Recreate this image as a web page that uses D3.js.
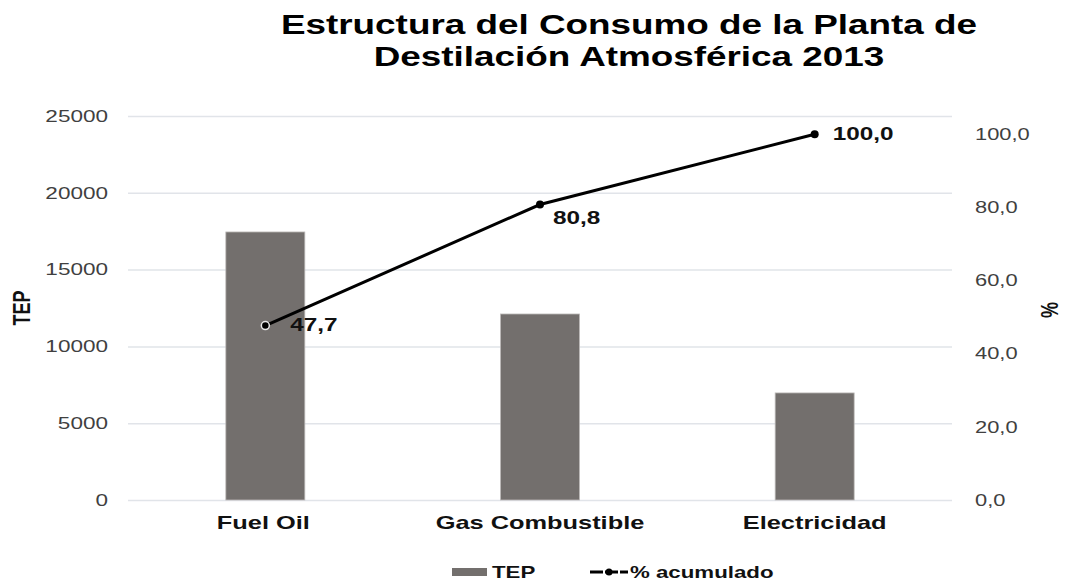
<!DOCTYPE html>
<html>
<head>
<meta charset="utf-8">
<script src="https://cdn.jsdelivr.net/npm/d3@7"></script>
<style>
  body { margin: 0; background: #fff; }
  svg { display: block; font-family: 'Liberation Sans', Arial, sans-serif; }
</style>
</head>
<body>
<svg id="chart" width="1072" height="581"></svg>
<script>
// data
const categories = ['Fuel Oil', 'Gas Combustible', 'Electricidad'];
const tep = [17450, 12110, 6970];
const acumulado = [47.7, 80.8, 100.0];
const leftTicks = [0, 5000, 10000, 15000, 20000, 25000];
const rightTicks = [0, 20, 40, 60, 80, 100];
const titleLines = ['Estructura del Consumo de la Planta de', 'Destilación Atmosférica 2013'];

// label nudges (style, not data)
const labelOffsets = [[25, 0], [13, 14], [18, 0]];

const SX = 1.35; // the reference is stretched horizontally
const barColor = '#736f6d';
const gridColor = '#e1e4e9';
const tickColor = '#404040';

const svg = d3.select('#chart');
const margin = { left: 128, right: 120, top: 116, bottom: 81 };
const W = 1072, H = 581;
const plotL = margin.left, plotR = W - margin.right, plotT = margin.top, plotB = H - margin.bottom;

const x = d3.scaleBand().domain(categories).range([plotL, plotR]).padding(0);
const yL = d3.scaleLinear().domain([0, 25000]).range([plotB, plotT]);
const yR = d3.scaleLinear().domain([0, 105]).range([plotB, plotT]);
const barW = 79;

function stretch(sel) {
  sel.each(function () {
    const t = d3.select(this);
    const xv = +t.attr('x') || 0;
    t.attr('x', xv / SX).attr('transform', 'scale(' + SX + ',1)');
  });
}

function label(g, px, py, txt, opts) {
  opts = opts || {};
  return g.append('text')
    .attr('transform', 'translate(' + px + ',' + py + ') scale(' + SX + ',1)' + (opts.rotate ? ' rotate(' + opts.rotate + ')' : ''))
    .attr('text-anchor', opts.anchor || 'start')
    .attr('dominant-baseline', opts.baseline || 'central')
    .style('font-size', (opts.size || 16) + 'px')
    .style('font-weight', opts.weight || 'bold')
    .style('fill', opts.color || '#111')
    .text(txt);
}

// gridlines
svg.append('g')
  .attr('transform', 'translate(' + plotL + ',0)')
  .call(d3.axisLeft(yL).tickValues(leftTicks).tickSize(-(plotR - plotL)).tickFormat(''))
  .call(g => g.select('.domain').remove())
  .call(g => g.selectAll('line').attr('stroke', gridColor).attr('stroke-width', 1.5));

// left axis
svg.append('g')
  .attr('transform', 'translate(' + plotL + ',0)')
  .call(d3.axisLeft(yL).tickValues(leftTicks).tickSize(0).tickPadding(20).tickFormat(d3.format('d')))
  .call(g => g.select('.domain').remove())
  .call(g => g.selectAll('text')
    .style('font-family', "'Liberation Sans', Arial, sans-serif")
    .style('font-size', '16.7px').style('fill', tickColor).call(stretch));

// right axis
const fmtR = v => d3.format('.1f')(v).replace('.', ',');
svg.append('g')
  .attr('transform', 'translate(' + plotR + ',0)')
  .call(d3.axisRight(yR).tickValues(rightTicks).tickSize(0).tickPadding(23).tickFormat(fmtR))
  .call(g => g.select('.domain').remove())
  .call(g => g.selectAll('text')
    .style('font-family', "'Liberation Sans', Arial, sans-serif")
    .style('font-size', '16.2px').style('fill', tickColor).call(stretch));

// bars
svg.append('g').selectAll('rect')
  .data(tep)
  .join('rect')
  .attr('x', (d, i) => x(categories[i]) + x.bandwidth() / 2 - barW / 2)
  .attr('y', d => yL(d))
  .attr('width', barW)
  .attr('height', d => yL(0) - yL(d))
  .attr('fill', barColor)
  .attr('stroke', '#bdbab9')
  .attr('stroke-width', 0.8);

// category labels
const cx = i => x(categories[i]) + x.bandwidth() / 2;
categories.forEach((c, i) => label(svg, cx(i) + (i === 0 ? -2 : 0), 523, c, { anchor: 'middle', size: 18.8 }));

// cumulative line
const line = d3.line()
  .x((d, i) => cx(i))
  .y(d => yR(d));
svg.append('path')
  .datum(acumulado)
  .attr('d', line)
  .attr('fill', 'none')
  .attr('stroke', '#000')
  .attr('stroke-width', 3);

svg.append('g').selectAll('circle')
  .data(acumulado)
  .join('circle')
  .attr('cx', (d, i) => cx(i))
  .attr('cy', d => yR(d))
  .attr('r', 4)
  .attr('fill', '#000')
  .attr('stroke', (d, i) => i === 0 ? '#e8e8e8' : 'none')
  .attr('stroke-width', 1.5);

acumulado.forEach((v, i) => {
  label(svg, cx(i) + labelOffsets[i][0], yR(v) + labelOffsets[i][1], fmtR(v), { size: 18 });
});

// axis titles
label(svg, 22, 308, 'TEP', { anchor: 'middle', size: 18, rotate: -90 });
label(svg, 1050, 310, '%', { anchor: 'middle', size: 18, rotate: -90 });

// title
titleLines.forEach((t, i) => label(svg, 629, 25 + i * 32, t, { anchor: 'middle', size: 27.3, color: '#000' }));

// legend
const lg = svg.append('g');
lg.append('rect').attr('x', 452).attr('y', 568).attr('width', 35).attr('height', 8).attr('fill', barColor);
label(lg, 492, 572, 'TEP', { size: 16.5 });
lg.append('line').attr('x1', 590).attr('x2', 628).attr('y1', 572).attr('y2', 572)
  .attr('stroke', '#000').attr('stroke-width', 3).attr('stroke-dasharray', '13,2');
lg.append('circle').attr('cx', 609).attr('cy', 572).attr('r', 3.5).attr('fill', '#000');
label(lg, 630, 572, '% acumulado', { size: 16.5 });
</script>
</body>
</html>
